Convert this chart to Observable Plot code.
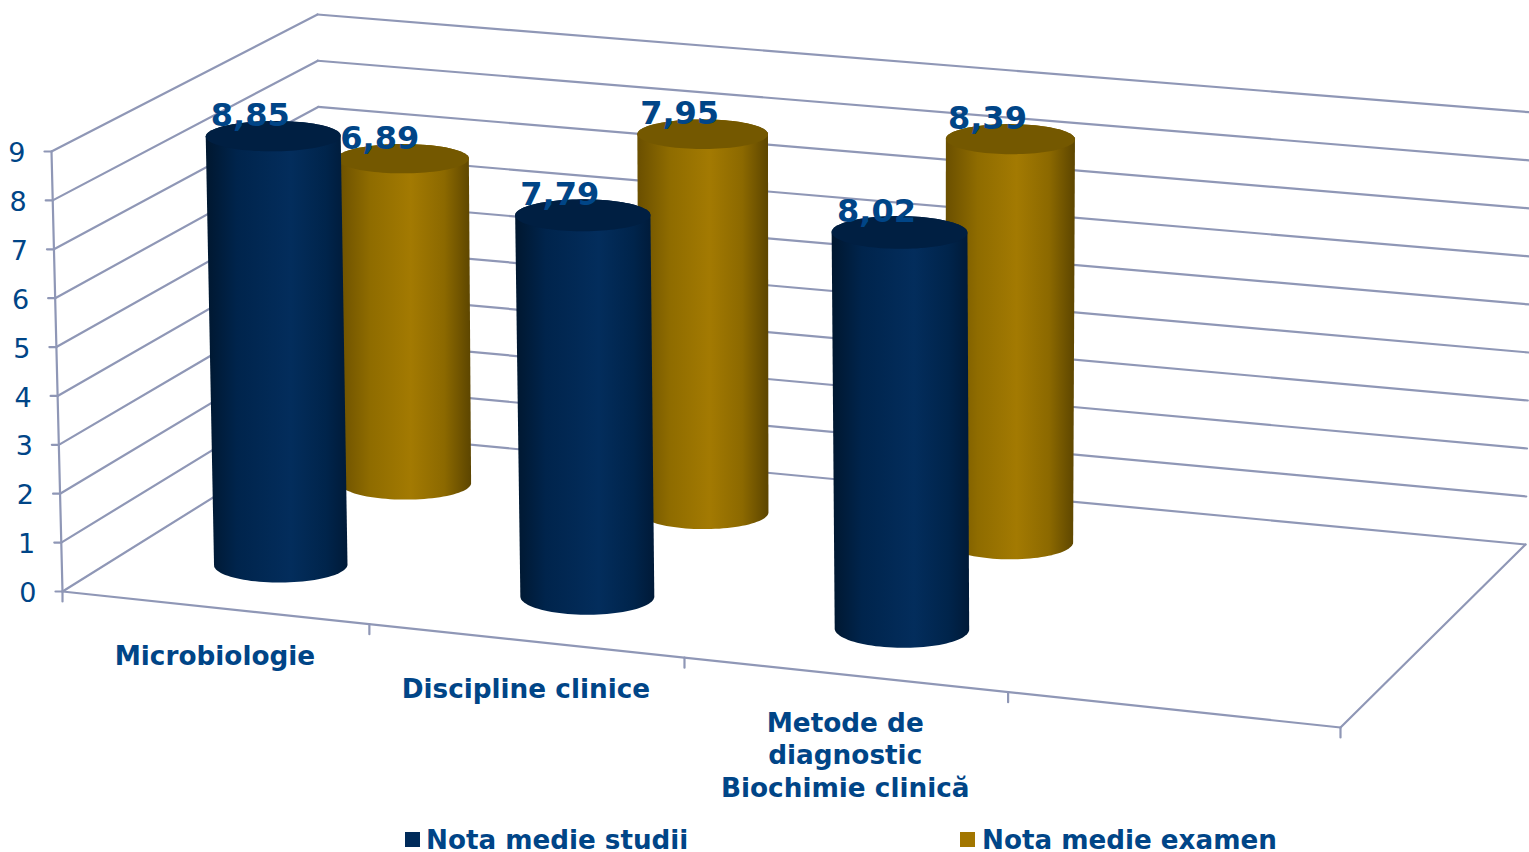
<!DOCTYPE html>
<html>
<head>
<meta charset="utf-8">
<script src="https://cdn.jsdelivr.net/npm/d3@7"></script>
<script src="https://cdn.jsdelivr.net/npm/@observablehq/plot@0.6"></script>
<style>
html,body{margin:0;padding:0;background:#fff;overflow:hidden}
#legend{position:relative;height:32px;font:bold 26.2px "DejaVu Sans",sans-serif;color:#004587}
#legend span{position:absolute;top:3px;white-space:nowrap;line-height:34px}
#legend i{position:absolute;top:12px;width:15px;height:15px;display:block}
</style>
</head>
<body>
<div id="chart"></div>
<div id="legend"></div>
<script>
// ---- data ----
const categories = ["Microbiologie", "Discipline clinice", "Metode de\ndiagnostic\nBiochimie clinică"];
const slots = 4;
const seriesNames = ["Nota medie studii", "Nota medie examen"];
const notaStudii = [8.85, 7.79, 8.02];
const notaExamen = [6.89, 7.95, 8.39];
const valueTicks = [0, 1, 2, 3, 4, 5, 6, 7, 8, 9];

// ---- look ----
const W = 1529, H = 820, TEXT = "#004587", GRID = "#8f97b6";
const FONT = '"DejaVu Sans", sans-serif';

// ---- perspective box: floor corners (front-left, front-right, back-right, back-left), top corners ----
const floorQuad = [[62,591],[1340,727],[1525,544],[320,430]];
const topFL = [51,151], topBR = [1532,112], topBL = [317,14];
const [[x0,y0],[x1,y1],[x2,y2],[x3,y3]] = floorQuad;
const dx1=x1-x2, dx2=x3-x2, sx=x0-x1+x2-x3, dy1=y1-y2, dy2=y3-y2, sy=y0-y1+y2-y3;
const DD=dx1*dy2-dx2*dy1, gg=(sx*dy2-dx2*sy)/DD, hh=(dx1*sy-sx*dy1)/DD;
const wOf=(u,v)=>gg*u+hh*v+1;
// numerators for one plane through three corners, sharing the floor's perspective weight
function plane(p00,p01,p11){
  return [0,1].map(k=>{
    const beta=p01[k]*wOf(0,1)-p00[k];
    const alpha=p11[k]*wOf(1,1)-p00[k]-beta;
    return [alpha,beta,p00[k]];
  });
}
const floorN = plane(floorQuad[0],floorQuad[3],floorQuad[2]);
const topN = plane(topFL,topBL,topBR);
const warp = u => u + 0.025*u*(1-u);
const maxValue = d3.max(valueTicks);
function proj(u0,v,val){
  const u=warp(u0), w=wOf(u,v), t=val/maxValue;
  return [0,1].map(k=>{
    const f=(floorN[k][0]*u+floorN[k][1]*v+floorN[k][2])/w;
    const p=(topN[k][0]*u+topN[k][1]*v+topN[k][2])/w;
    return f+(p-f)*t;
  });
}
const seg = (a,b,key)=>[{x:a[0],y:a[1],key},{x:b[0],y:b[1],key}];

// grid lines
const gridLines = [];
for (const val of valueTicks){
  gridLines.push(...seg(proj(0,0,val),proj(0,1,val),"l"+val));
  gridLines.push(...seg(proj(0,1,val),proj(1,1,val),"b"+val));
  gridLines.push(...seg(proj(0,0,val),[proj(0,0,val)[0]-7,proj(0,0,val)[1]],"t"+val));
}
gridLines.push(...seg(proj(0,0,0),proj(0,0,maxValue),"axisY"));
gridLines.push(...seg(proj(0,0,0),proj(1,0,0),"front"));
gridLines.push(...seg(proj(1,0,0),proj(1,1,0),"right"));
for (let i=0;i<=slots;i++){
  const p=proj(i/slots,0,0);
  gridLines.push(...seg(p,[p[0],p[1]+10],"x"+i));
}

// cylinders
const RU=0.0528, RV=0.098;
function ring(i,v,val){
  const u=(i+.5)/slots, ru=RU*(1-.11*(u-.05))*(v<.5?.965+.07*u:.99);
  return d3.range(0,96).map(k=>{
    const t=k/96*2*Math.PI;
    return proj(u+ru*Math.cos(t),v+RV*Math.sin(t),val);
  });
}
const rows = [{values:notaExamen,v:.75,id:"gold"},{values:notaStudii,v:.25,id:"blue"}];
const bodies=[], tops=[], valueLabels=[];
rows.forEach(r=>r.values.forEach((val,i)=>{
  const a=ring(i,r.v,0), b=ring(i,r.v,val);
  d3.polygonHull([...a,...b]).forEach(p=>bodies.push({x:p[0],y:p[1],key:r.id+i,id:r.id}));
  b.forEach(p=>tops.push({x:p[0],y:p[1],key:r.id+i,id:r.id}));
  const c=proj((i+.5)/slots,r.v,val);
  valueLabels.push({x:c[0],y:c[1],text:String(val).replace(".",",")});
}));
const gradient=(id,stops)=>()=>{
  const defs=d3.create("svg:defs");
  const g=defs.append("linearGradient").attr("id",id).attr("x1",0).attr("x2",1).attr("y1",0).attr("y2",0);
  stops.forEach(([o,c])=>g.append("stop").attr("offset",o).attr("stop-color",c));
  return defs.node();
};
const blueStops=[[0,"#00172f"],[.22,"#00244c"],[.6,"#032d5c"],[.85,"#00244b"],[1,"#001a38"]];
const goldStops=[[0,"#6a4f00"],[.25,"#8f6c00"],[.55,"#a37a02"],[.8,"#8c6900"],[1,"#5c4500"]];

const yLabels = valueTicks.map(val=>{const p=proj(0,0,val);return {x:p[0]-26,y:p[1],text:String(val)};});
const xLabels = categories.map((c,i)=>{const p=proj((i+.5)/slots,0,0);return {x:p[0],y:p[1],text:c};});

const chart = Plot.plot({
  width:W, height:H, margin:0,
  x:{domain:[0,W],range:[0,W],axis:null},
  y:{domain:[0,H],range:[0,H],axis:null},
  style:{background:"#fff",fontFamily:FONT},
  marks:[
    gradient("blueGrad",blueStops),
    gradient("goldGrad",goldStops),
    Plot.line(gridLines,{x:"x",y:"y",z:"key",stroke:GRID,strokeWidth:2.2,curve:"linear"}),
    Plot.line(bodies.filter(d=>d.id=="gold"),{x:"x",y:"y",z:"key",fill:"url(#goldGrad)",stroke:"none"}),
    Plot.line(tops.filter(d=>d.id=="gold"),{x:"x",y:"y",z:"key",fill:"#745800",stroke:"none"}),
    Plot.line(bodies.filter(d=>d.id=="blue"),{x:"x",y:"y",z:"key",fill:"url(#blueGrad)",stroke:"none"}),
    Plot.line(tops.filter(d=>d.id=="blue"),{x:"x",y:"y",z:"key",fill:"#001f42",stroke:"none"}),
    Plot.text(yLabels,{x:"x",y:"y",text:"text",textAnchor:"end",fontSize:27,fill:TEXT,dy:2}),
    Plot.text(xLabels,{x:"x",y:"y",text:"text",fontSize:26.3,fontWeight:"bold",fill:TEXT,lineAnchor:"top",dy:34,lineHeight:1.235}),
    Plot.text(valueLabels,{x:"x",y:"y",text:"text",fontSize:32,fontWeight:"bold",fill:TEXT,dx:-23,dy:-10,lineAnchor:"bottom"})
  ]
});
document.getElementById("chart").appendChild(chart);
chart.style.display="block";

const legend=document.getElementById("legend");
[["#002b5a",405,426],["#a27600",960,982]].forEach(([c,sx,tx],i)=>{
  const sw=document.createElement("i");sw.style.background=c;sw.style.left=sx+"px";legend.appendChild(sw);
  const t=document.createElement("span");t.textContent=seriesNames[i];t.style.left=tx+"px";legend.appendChild(t);
});
</script>
</body>
</html>
